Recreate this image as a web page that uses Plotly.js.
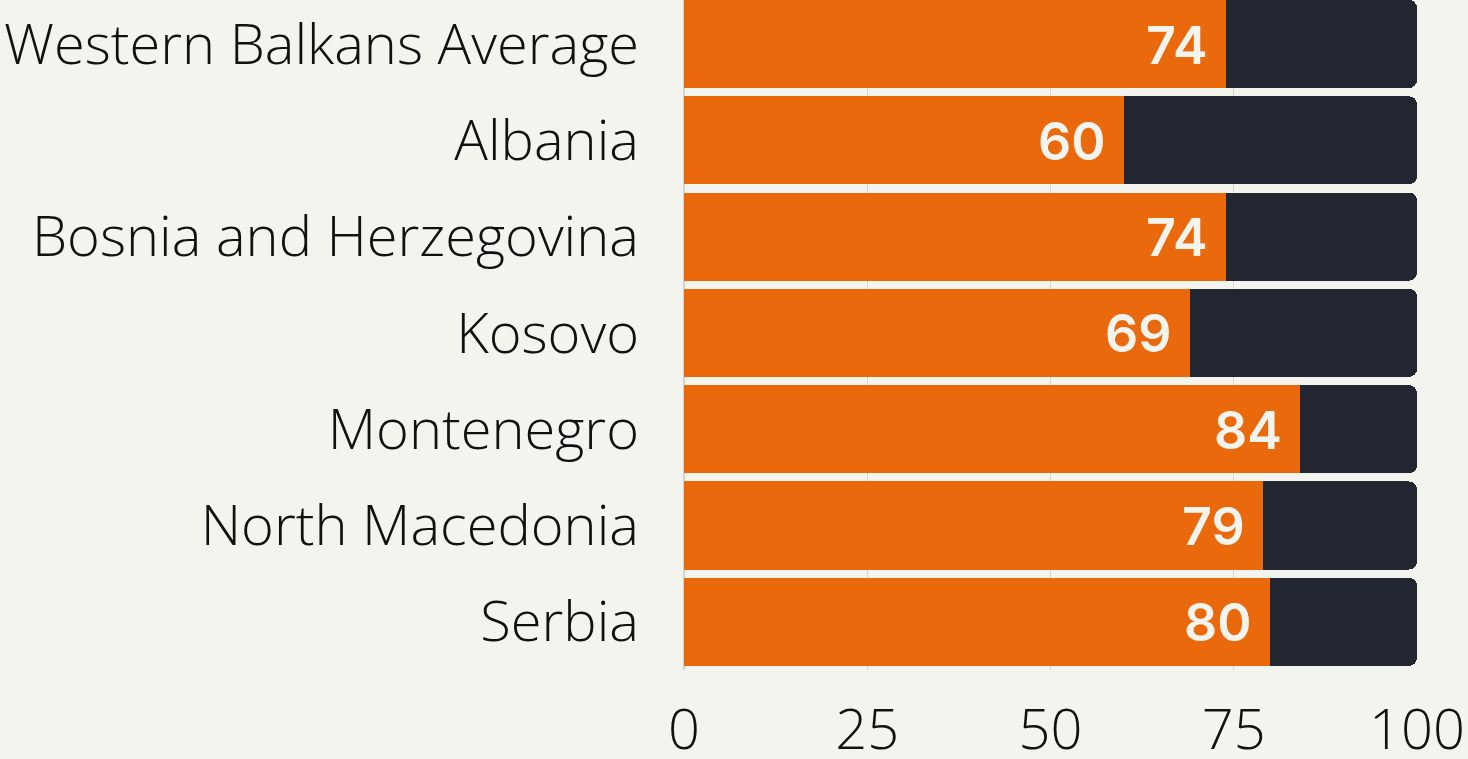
<!DOCTYPE html>
<html><head><meta charset="utf-8">
<script src="https://cdn.plot.ly/plotly-3.0.1.min.js"></script>
<style>html,body{margin:0;padding:0;background:#f4f4ef;}#chart{width:1468px;height:759px;}</style>
</head><body><div id="chart"></div>
<script>
const categories = ["Western Balkans Average","Albania","Bosnia and Herzegovina","Kosovo","Montenegro","North Macedonia","Serbia"];
const values = [74,60,74,69,84,79,80];
const remainder = values.map(v => 100 - v);
const tickVals = [0,25,50,75,100];

const orange = '#ea690c', dark = '#222630', bg = '#f4f4ef';

const traces = [
  {type:'bar', orientation:'h', y:categories, x:values, marker:{color:orange}, hoverinfo:'skip'},
  {type:'bar', orientation:'h', y:categories, x:remainder, marker:{color:dark}, hoverinfo:'skip'}
];

const annotations = categories.map((c,i)=>({
  x: values[i], y: c, xref:'x', yref:'y', text: String(values[i]),
  xanchor:'right', yanchor:'middle', xshift:-16, yshift:-1, showarrow:false,
  font:{family:'Inter', size:52, color:'#f4f4ef', weight:600}
}));

const layout = {
  width:1468, height:759,
  paper_bgcolor:bg, plot_bgcolor:bg,
  barmode:'stack', bargap:0.085, barcornerradius:8,
  showlegend:false,
  margin:{l:684, r:51, t:0, b:89},
  xaxis:{range:[0,100], tickvals:tickVals, showgrid:true, gridcolor:'#d4d4d0', gridwidth:1,
         zeroline:true, zerolinecolor:'#d4d4d0', zerolinewidth:2, fixedrange:true,
         tickfont:{family:'Open Sans', size:56, color:'#111', weight:300}, ticks:'', ticklabelstandoff:22},
  yaxis:{categoryorder:'array', categoryarray:categories, range:[6.5,-0.457],
         showgrid:false, zeroline:false, ticks:'', ticklabelstandoff:44,
         tickfont:{family:'Open Sans', size:56, color:'#111', weight:300}},
  annotations: annotations
};
Plotly.newPlot('chart', traces, layout, {displayModeBar:false, staticPlot:true});
</script></body></html>
